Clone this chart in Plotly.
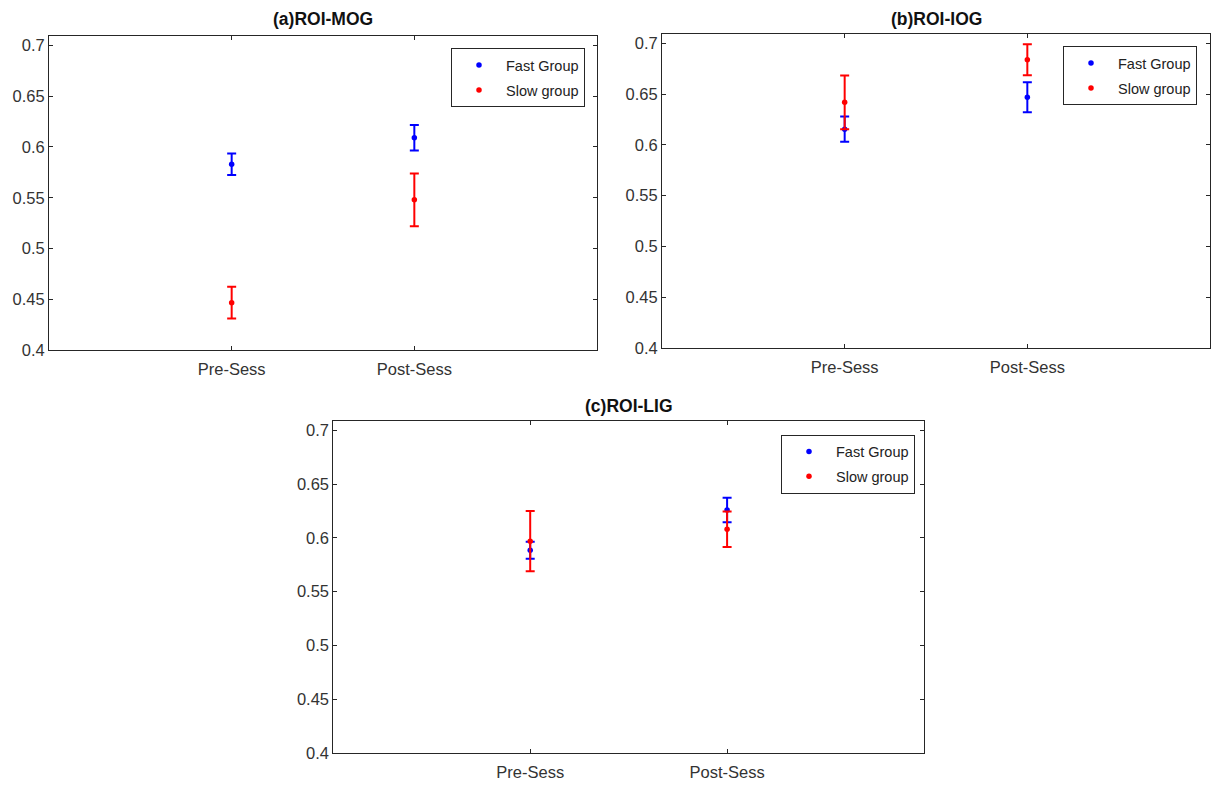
import plotly.graph_objects as go

categories = ["Pre-Sess", "Post-Sess"]
x_pos = [1, 2]

a_fast = [0.583, 0.609]
a_fast_err = [0.0105, 0.0125]
a_slow = [0.447, 0.548]
a_slow_err = [0.0155, 0.026]

b_fast = [0.6155, 0.647]
b_fast_err = [0.0125, 0.0147]
b_slow = [0.642, 0.684]
b_slow_err = [0.0265, 0.0153]

c_fast = [0.5885, 0.626]
c_fast_err = [0.008, 0.0114]
c_slow = [0.597, 0.608]
c_slow_err = [0.028, 0.0165]

titles = ["(a)ROI-MOG", "(b)ROI-IOG", "(c)ROI-LIG"]
series_names = ["Fast Group", "Slow group"]
y_ticks = [0.4, 0.45, 0.5, 0.55, 0.6, 0.65, 0.7]
y_tick_text = ["0.4", "0.45", "0.5", "0.55", "0.6", "0.65", "0.7"]

# page body has an 8px margin; vertical capture appears scaled by KY
OFF = 8
KY = 787 / 797
W, H = 1219 - 2 * OFF, 781
BLUE = "#0000FF"
RED = "#FF0000"
FONT = "Liberation Sans, Arial, sans-serif"

def px_x(v):
    return (v - OFF) / W

def px_y(v):
    return 1 - (v / KY - OFF) / H

# panel boxes in target pixels: (left, right, top, bottom)
boxes = [(49, 597, 35.7, 350), (662, 1210, 34, 347.3), (333.3, 924, 420, 752)]
legend_pos = [(585, 48), (1197, 46), (915, 434)]
title_y = [18.5, 18.5, 405]

panels = [
    (a_fast, a_fast_err, a_slow, a_slow_err),
    (b_fast, b_fast_err, b_slow, b_slow_err),
    (c_fast, c_fast_err, c_slow, c_slow_err),
]

fig = go.Figure()
layout = dict(
    width=W, height=H, autosize=False,
    margin=dict(l=0, r=0, t=0, b=0),
    paper_bgcolor="white", plot_bgcolor="white",
    font=dict(family=FONT, color="#333333"),
    showlegend=True,
    annotations=[],
)

for i, (fast, fast_err, slow, slow_err) in enumerate(panels):
    n = "" if i == 0 else str(i + 1)
    xa, ya = "x" + n, "y" + n
    lg = "legend" + n
    for j, (vals, errs, color, name) in enumerate(
            [(fast, fast_err, BLUE, series_names[0]),
             (slow, slow_err, RED, series_names[1])]):
        fig.add_trace(go.Scatter(
            x=x_pos, y=vals, mode="markers", name=name,
            xaxis=xa, yaxis=ya, legend=lg, legendgroup=f"g{i}{j}",
            marker=dict(color=color, size=5.5),
            error_y=dict(type="data", array=errs, visible=True,
                         color=color, thickness=2, width=4.5),
        ))
    l, r, t, b = boxes[i]
    dom_x = [px_x(l), px_x(r)]
    dom_y = [px_y(b), px_y(t)]
    layout["xaxis" + n] = dict(
        domain=dom_x, anchor=ya, range=[0, 3],
        tickmode="array", tickvals=x_pos, ticktext=categories,
        ticks="inside", ticklen=4, tickcolor="#262626",
        showline=True, linecolor="#262626", linewidth=1, mirror="ticks",
        showgrid=False, zeroline=False, fixedrange=True,
        ticklabelstandoff=4,
        tickfont=dict(size=16.5, color="#333333", family=FONT),
    )
    layout["yaxis" + n] = dict(
        domain=dom_y, anchor=xa, range=[0.4, 0.7092],
        tickmode="array", tickvals=y_ticks, ticktext=y_tick_text,
        ticks="inside", ticklen=4, tickcolor="#262626",
        showline=True, linecolor="#262626", linewidth=1, mirror="ticks",
        showgrid=False, zeroline=False, fixedrange=True,
        tickfont=dict(size=16.5, color="#333333", family=FONT),
    )
    lx, ly = legend_pos[i]
    layout[lg] = dict(
        x=px_x(lx), y=px_y(ly), xanchor="right", yanchor="top",
        xref="paper", yref="paper",
        bordercolor="#262626", borderwidth=1, bgcolor="white",
        font=dict(size=14.5, color="#222222", family=FONT),
        tracegroupgap=3, itemwidth=44,
    )
    layout["annotations"].append(dict(
        text="<b>" + titles[i] + "</b>", xref="paper", yref="paper",
        x=px_x((l + r) / 2), y=px_y(title_y[i]), xanchor="center", yanchor="middle",
        showarrow=False, font=dict(size=17.5, color="#111111", family=FONT),
    ))

fig.update_layout(**layout)
fig.write_html("out.html")
